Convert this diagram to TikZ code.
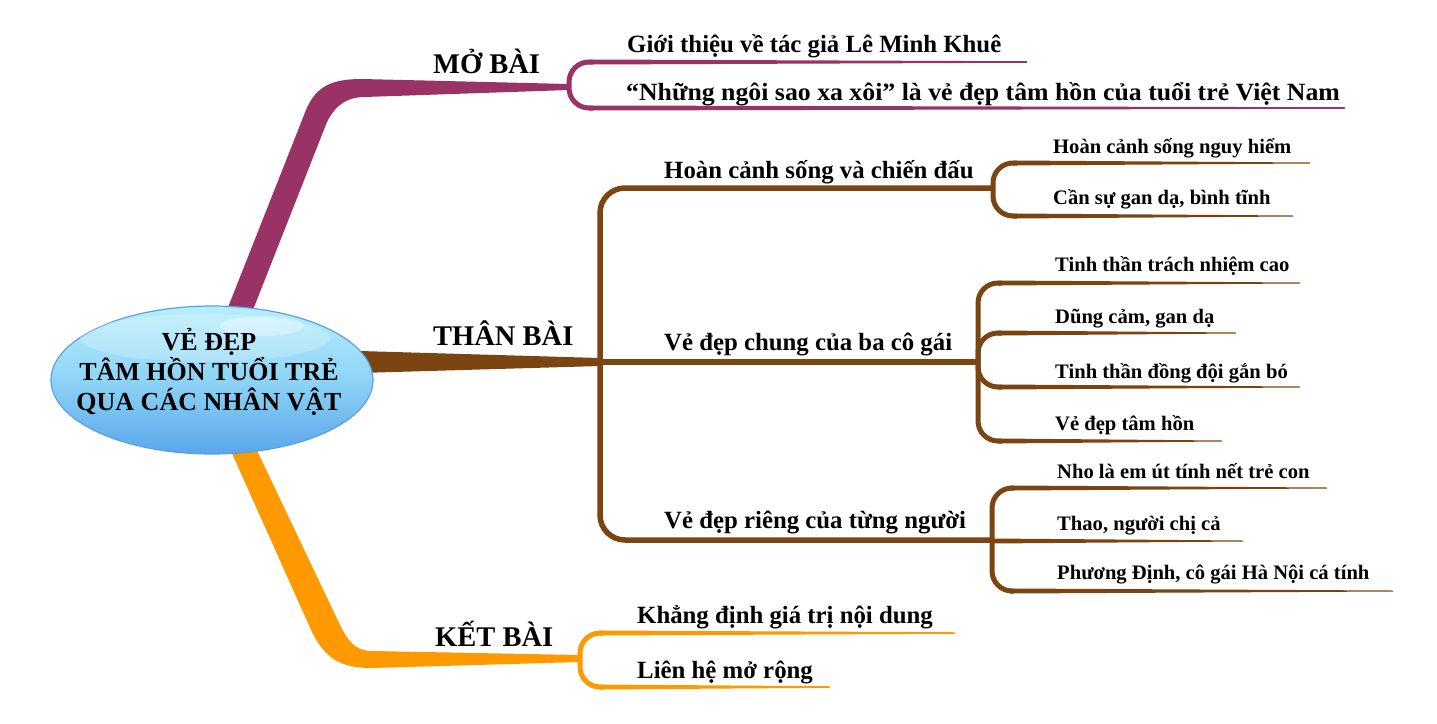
\documentclass[tikz,border=0pt]{standalone}
\usepackage{fontspec}
\setmainfont{Liberation Serif}
\usetikzlibrary{shapes.geometric}
\definecolor{mocol}{HTML}{993366}
\definecolor{thancol}{HTML}{7B4511}
\definecolor{ketcol}{HTML}{FF9900}
\definecolor{shadowc}{HTML}{C4C4C4}
\definecolor{ellTop}{HTML}{B8EEFC}
\definecolor{ellMid}{HTML}{8ED4F6}
\definecolor{ellBot}{HTML}{5AA6EA}
\definecolor{ellEdge}{HTML}{5B9FE6}
\pgfdeclarelayer{shadowlayer}
\pgfsetlayers{shadowlayer,main}
% tapered horizontal line: color, x1, y, x2, w1, w2
\newcommand\tline[6]{%
  \begin{pgfonlayer}{shadowlayer}
  \fill[shadowc] ({#2+2},{#3+3-#5/2}) -- ({#4+4},{#3+3-#6/2}) -- ({#4+4},{#3+3+#6/2}) -- ({#2+2},{#3+3+#5/2}) -- cycle;
  \end{pgfonlayer}
  \fill[#1] ({#2},{#3-#5/2}) -- ({#4},{#3-#6/2}) -- ({#4},{#3+#6/2}) -- ({#2},{#3+#5/2}) -- cycle;
}
% rounded fork corner: color, xj, yj, yb, width
\newcommand\fcorner[5]{%
  \begin{pgfonlayer}{shadowlayer}
  \draw[shadowc, line width=#5, rounded corners=20] ({#2+2},{#3+3}) -- ({#2+2},{#4+3}) -- ({#2+26},{#4+3});
  \end{pgfonlayer}
  \draw[#1, line width=#5, rounded corners=20] (#2,#3) -- (#2,#4) -- ({#2+24},#4);
}
\tikzset{
  lvlA/.style={font=\bfseries\fontsize{28.5}{32}\selectfont, anchor=base west, inner sep=0pt},
  lvlB/.style={font=\bfseries\fontsize{24.8}{28}\selectfont, anchor=base west, inner sep=0pt},
  lvlC/.style={font=\bfseries\fontsize{20.6}{24}\selectfont, anchor=base west, inner sep=0pt},
}
\begin{document}
\begin{tikzpicture}[x=1pt,y=-1pt]
\useasboundingbox (0,0) rectangle (1437,723);
\fill[white] (0,0) rectangle (1437,723);

% junction coordinates
\coordinate (moJ) at (569,87);
\coordinate (thanJ) at (600,362);
\coordinate (ketJ) at (580,658);

% ---- main branches ----
\begin{pgfonlayer}{shadowlayer}
\fill[shadowc, shift={(3,4)}] (223,320) -- (306,110) .. controls (316,86) and (332,79) .. (362,79) -- (569,84) -- (569,90) -- (365,97) .. controls (348,97) and (336,104) .. (327,122) -- (249,320) -- cycle;
\fill[shadowc, shift={(3,4)}] (360,351) -- (600,358) -- (600,366) -- (360,373) -- cycle;
\fill[shadowc, shift={(3,4)}] (226,440) -- (312,632) .. controls (326,660) and (342,668) .. (372,668) -- (580,662) -- (580,655) -- (372,651) .. controls (358,651) and (350,645) .. (340,625) -- (252,440) -- cycle;
\end{pgfonlayer}
\fill[mocol] (223,320) -- (306,110) .. controls (316,86) and (332,79) .. (362,79) -- (569,84) -- (569,90) -- (365,97) .. controls (348,97) and (336,104) .. (327,122) -- (249,320) -- cycle;
\fill[thancol] (360,351) -- (600,358) -- (600,366) -- (360,373) -- cycle;
\fill[ketcol] (226,440) -- (312,632) .. controls (326,660) and (342,668) .. (372,668) -- (580,662) -- (580,655) -- (372,651) .. controls (358,651) and (350,645) .. (340,625) -- (252,440) -- cycle;

% ---- MO BAI fork ----
\fcorner{mocol}{569}{87}{62}{5}
\tline{mocol}{589}{62}{1027}{5}{1.5}
\fcorner{mocol}{569}{87}{108}{5}
\tline{mocol}{589}{108}{1345}{5}{1.5}

% ---- THAN BAI spine ----
\begin{pgfonlayer}{shadowlayer}
\draw[shadowc, line width=5.5, rounded corners=25] (996,191) -- (603,191) -- (603,543) -- (995,543);
\draw[shadowc, line width=5.5] (603,365) -- (981,365);
\end{pgfonlayer}
\draw[thancol, line width=5.5, rounded corners=25] (993,188) -- (600,188) -- (600,540) -- (992,540);
\draw[thancol, line width=5.5] (thanJ) -- (978,362);

% level 3 fork 1
\fcorner{thancol}{993}{188}{163}{5}
\tline{thancol}{1013}{163}{1310}{5}{1}
\fcorner{thancol}{993}{188}{216}{5}
\tline{thancol}{1013}{216}{1293}{5}{1}

% level 3 fork 2
\begin{pgfonlayer}{shadowlayer}
\draw[shadowc, line width=5, rounded corners=20] (1004,286) -- (981,286) -- (981,444) -- (1004,444);
\end{pgfonlayer}
\draw[thancol, line width=5, rounded corners=20] (1002,283) -- (978,283) -- (978,441) -- (1002,441);
\fcorner{thancol}{978}{362}{333}{5}
\fcorner{thancol}{978}{362}{387}{5}
\tline{thancol}{998}{283}{1300}{5}{1}
\tline{thancol}{998}{333}{1236}{5}{1}
\tline{thancol}{998}{387}{1300}{5}{1}
\tline{thancol}{998}{441}{1222}{5}{1}

% level 3 fork 3
\begin{pgfonlayer}{shadowlayer}
\draw[shadowc, line width=5, rounded corners=20] (1016,491) -- (995,491) -- (995,594) -- (1016,594);
\end{pgfonlayer}
\draw[thancol, line width=5, rounded corners=20] (1014,488) -- (992,488) -- (992,591) -- (1014,591);
\tline{thancol}{1010}{488}{1327}{5}{1}
\tline{thancol}{990}{541}{1243}{5}{1}
\tline{thancol}{1010}{591}{1393}{5}{1}

% ---- KET BAI fork ----
\fcorner{ketcol}{580}{658}{633}{5}
\tline{ketcol}{600}{633}{955}{5}{1.5}
\fcorner{ketcol}{580}{658}{687}{5}
\tline{ketcol}{600}{687}{830}{5}{1.5}

% ---- central ellipse ----
\node[ellipse, minimum width=322pt, minimum height=148pt, inner sep=0pt,
      top color=ellTop, bottom color=ellBot, middle color=ellMid,
      draw=ellEdge, line width=1.2pt] (core) at (212,380) {};
\fill[white, opacity=0.22] (205,338) ellipse [x radius=125, y radius=24];
\fill[white, opacity=0.35] (262,326) ellipse [x radius=42, y radius=10];
\node[align=center, font=\bfseries\fontsize{26}{30}\selectfont, inner sep=0pt] (coretext) at (209,372)
  {VẺ ĐẸP\\TÂM HỒN TUỔI TRẺ\\QUA CÁC NHÂN VẬT};

% ---- labels ----
\node[lvlA] (mo) at (433,73) {MỞ BÀI};
\node[lvlA] (than) at (433,345) {THÂN BÀI};
\node[lvlA] (ket) at (435,646) {KẾT BÀI};

\node[lvlB] (mo1) at (627,52) {Giới thiệu về tác giả Lê Minh Khuê};
\node[lvlB] (mo2) at (626,100) {\scalebox{1.04}[1]{“Những ngôi sao xa xôi” là vẻ đẹp tâm hồn của tuổi trẻ Việt Nam}};
\node[lvlB] (th1) at (664,178) {Hoàn cảnh sống và chiến đấu};
\node[lvlB] (th2) at (664,350) {Vẻ đẹp chung của ba cô gái};
\node[lvlB] (th3) at (664,528) {Vẻ đẹp riêng của từng người};
\node[lvlB] (ket1) at (637,623) {Khẳng định giá trị nội dung};
\node[lvlB] (ket2) at (637,678) {Liên hệ mở rộng};

\node[lvlC] (a1) at (1053,153) {Hoàn cảnh sống nguy hiểm};
\node[lvlC] (a2) at (1053,204) {Cần sự gan dạ, bình tĩnh};
\node[lvlC] (b1) at (1055,271) {Tinh thần trách nhiệm cao};
\node[lvlC] (b2) at (1055,323) {Dũng cảm, gan dạ};
\node[lvlC] (b3) at (1055,378) {Tinh thần đồng đội gắn bó};
\node[lvlC] (b4) at (1055,430) {Vẻ đẹp tâm hồn};
\node[lvlC] (c1) at (1057,478) {Nho là em út tính nết trẻ con};
\node[lvlC] (c2) at (1057,530) {Thao, người chị cả};
\node[lvlC] (c3) at (1057,579) {Phương Định, cô gái Hà Nội cá tính};
\end{tikzpicture}
\end{document}
